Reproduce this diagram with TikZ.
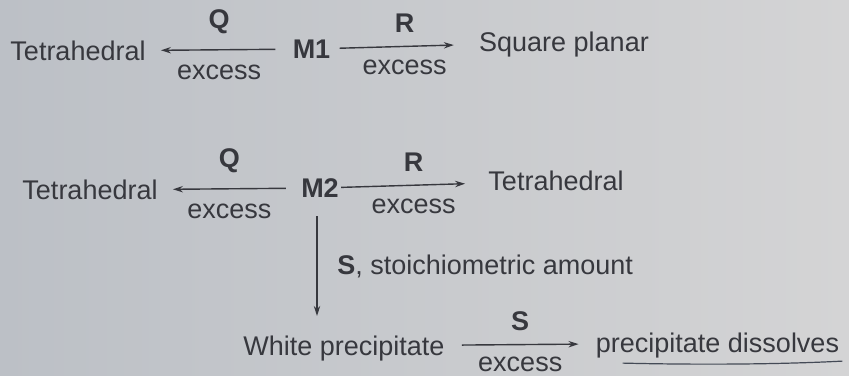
\documentclass[tikz,border=0pt]{standalone}
\usepackage{fontspec}
\setmainfont{Liberation Sans}
\usetikzlibrary{positioning,arrows.meta}
\definecolor{ink}{RGB}{55,56,62}
\definecolor{pagel}{RGB}{188,192,198}
\definecolor{pager}{RGB}{212,212,213}
\definecolor{pen}{RGB}{68,74,86}
\tikzset{
  species/.style={inner sep=0pt,text height=9.7pt,text depth=0pt,text=ink},
  cond/.style={inner sep=0pt,text=ink},
  >={Stealth[length=5pt,width=3.2pt]},
  rxn/.style={->,draw=ink,line width=0.7pt},
}

\begin{document}
\begin{tikzpicture}[x=0.5pt,y=-0.5pt,font=\fontsize{13.5}{16}\selectfont]
  \shade[left color=pagel,right color=pager] (0,0) rectangle (849,375);
  \useasboundingbox (0,0) rectangle (849,375);
  % M1 row
  \node[species] (t1) at (78,51)    {Tetrahedral};
  \node[species] (m1) at (311.5,49) {\textbf{M1}};
  \node[species] (sq) at (564,42)   {Square planar};
  % M2 row
  \node[species] (t2l) at (90,190)  {Tetrahedral};
  \node[species] (m2)  at (320,188) {\textbf{M2}};
  \node[species] (t2r) at (556,181) {Tetrahedral};
  % precipitate
  \node[species] (wp) at (344,346)   {White precipitate};
  \node[species] (pd) at (717.5,343) {precipitate dissolves};
  \node[cond,anchor=west] (st) at (337,266) {\textbf{S}, stoichiometric amount};
  \path[rxn]
    (m1) edge[shorten <=8.5pt,shorten >=7.5pt]
      node[cond,above=7.5pt] {\textbf{Q}} node[cond,below=7pt] {excess} (t1)
    (m1) edge[shorten <=4.5pt,shorten >=12.5pt]
      node[cond,above=6.5pt] {\textbf{R}} node[cond,below=6.5pt] {excess} (sq)
    (m2) edge[shorten <=7.5pt,shorten >=7.5pt]
      node[cond,above=7.5pt] {\textbf{Q}} node[cond,below=7pt] {excess} (t2l)
    (m2) edge[shorten <=1pt,shorten >=11.5pt]
      node[cond,above=6.5pt] {\textbf{R}} node[cond,below=6.5pt] {excess} (t2r)
    (wp) edge[shorten <=8.5pt,shorten >=8.5pt]
      node[cond,above=6.5pt] {\textbf{S}} node[cond,below=6pt] {excess} (pd);
  \draw[rxn,shorten <=9pt,shorten >=10pt]
    ([xshift=-1.5pt]m2.south) -- ([xshift=-1.5pt]m2.south |- wp.north);
  % pen mark under the last product
  \draw[pen,line width=0.6pt] ([shift={(27,10)}]pd.south west)
    .. controls ([shift={(110,12)}]pd.south west) and ([shift={(190,11)}]pd.south west)
    .. ([shift={(3,8)}]pd.south east);
\end{tikzpicture}
\end{document}
